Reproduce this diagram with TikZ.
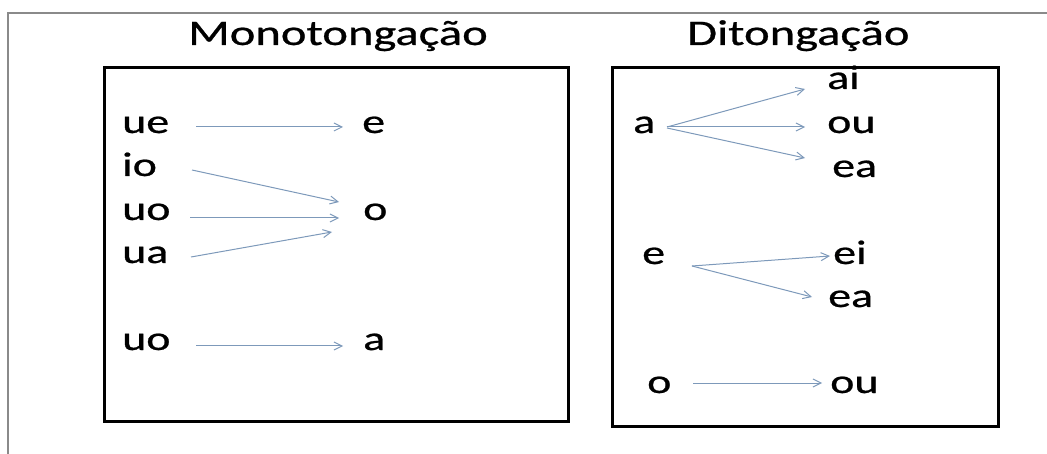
\documentclass[tikz,border=0pt]{standalone}
\usepackage{fontspec}
\setmainfont{Carlito}
\newfontfamily\lblfont{Carlito}[FakeBold=0.6]
\usetikzlibrary{arrows.meta,calc}
\newcommand\wtxt[1]{\scalebox{1.35}[1]{#1}}
\definecolor{arrowblue}{HTML}{7D99BA}
\definecolor{framegray}{HTML}{8A8A8A}
\tikzset{
  lbl/.style={anchor=base west, inner sep=0pt, font=\lblfont\fontsize{34}{40}\selectfont},
  ttl/.style={anchor=base west, inner sep=0pt, font=\lblfont\fontsize{36}{42}\selectfont},
  arr/.style={draw=arrowblue, line width=1pt, -{Straight Barb[length=8pt,width=8pt]}},
  panel/.style={draw=black, line width=3pt},
}
\begin{document}
\begin{tikzpicture}[x=1pt,y=-1pt]
\useasboundingbox (0,0) rectangle (1047,454);
% page frame
\draw[framegray, line width=1.5pt] (8,454) -- (8,13) -- (1047,13);
% panels
\draw[panel] (104,68) rectangle (568,421);
\draw[panel] (612,68) rectangle (998,426);
% headings
\node[ttl] (tmono) at (188,45) {\wtxt{Monotongação}};
\node[ttl] (tdit) at (687,45) {\wtxt{Ditongação}};
% monotongação
\node[lbl] (ue)  at (122,133) {\wtxt{ue}};
\node[lbl] (e1)  at (362,133) {\wtxt{e}};
\node[lbl] (io)  at (122,176) {\wtxt{io}};
\node[lbl] (uo1) at (122,220) {\wtxt{uo}};
\node[lbl] (o1)  at (363,220) {\wtxt{o}};
\node[lbl] (ua)  at (122,263) {\wtxt{ua}};
\node[lbl] (uo2) at (122,350) {\wtxt{uo}};
\node[lbl] (a1)  at (363,350) {\wtxt{a}};
\draw[arr] ($(ue.base west)+(74,-6)$)  -- ($(e1.base west)+(-19,-6)$);
\draw[arr] ($(io.base west)+(70,-6)$)  -- ($(o1.base west)+(-24,-18)$);
\draw[arr] ($(uo1.base west)+(68,-2)$) -- ($(o1.base west)+(-24,-2)$);
\draw[arr] ($(ua.base west)+(69,-6)$)  -- ($(o1.base west)+(-31,12)$);
\draw[arr] ($(uo2.base west)+(74,-4)$) -- ($(a1.base west)+(-20,-4)$);
% ditongação
\node[lbl] (a)   at (633,133) {\wtxt{a}};
\node[lbl] (ai)  at (827,89)  {\wtxt{ai}};
\node[lbl] (ou1) at (827,133) {\wtxt{ou}};
\node[lbl] (ea1) at (832,177) {\wtxt{ea}};
\node[lbl] (e)   at (642,264) {\wtxt{e}};
\node[lbl] (ei)  at (833,264) {\wtxt{ei}};
\node[lbl] (ea2) at (828,307) {\wtxt{ea}};
\node[lbl] (o)   at (647,393) {\wtxt{o}};
\node[lbl] (ou2) at (830,393) {\wtxt{ou}};
\draw[arr] ($(a.base west)+(34,-6)$) -- ($(ai.base west)+(-22,0)$);
\draw[arr] ($(a.base west)+(34,-6)$) -- ($(ou1.base west)+(-22,-6)$);
\draw[arr] ($(a.base west)+(34,-5)$) -- ($(ea1.base west)+(-27,-19)$);
\draw[arr] ($(e.base west)+(50,2)$)  -- ($(ei.base west)+(-3,-8)$);
\draw[arr] ($(e.base west)+(50,2)$)  -- ($(ea2.base west)+(-16,-10)$);
\draw[arr] ($(o.base west)+(46,-10)$) -- ($(ou2.base west)+(-8,-10)$);
\end{tikzpicture}
\end{document}
